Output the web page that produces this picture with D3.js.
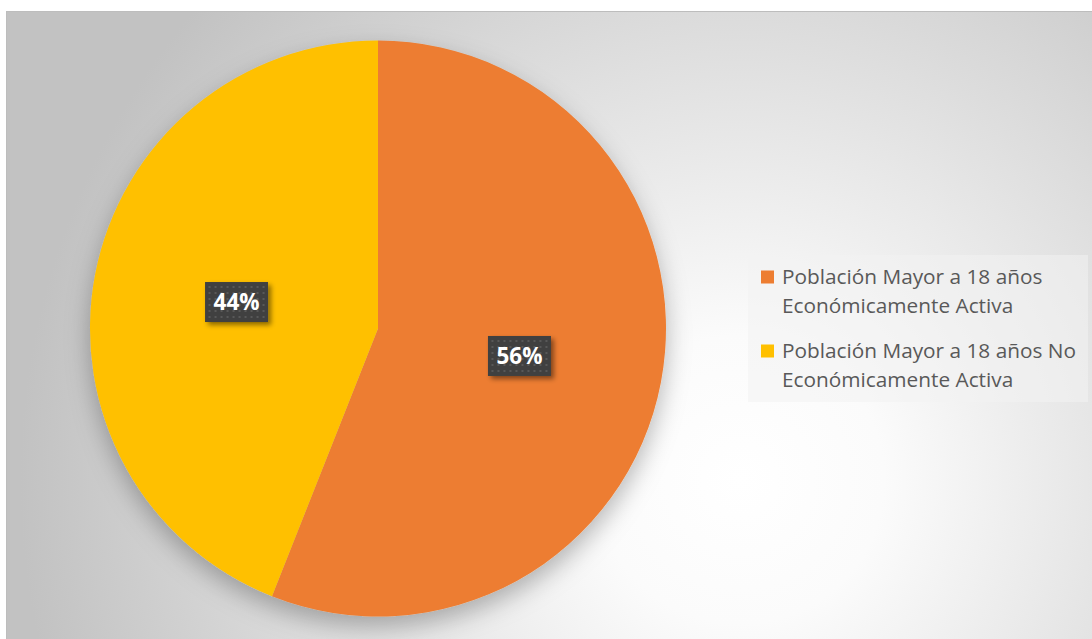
<!DOCTYPE html>
<html>
<head>
<meta charset="utf-8">
<script src="https://cdn.jsdelivr.net/npm/d3@7"></script>
<style>
  html, body { margin: 0; padding: 0; background: #ffffff; }
  svg { display: block; }
</style>
</head>
<body>
<svg id="chart" width="1092" height="639"></svg>
<script>
// Population over 18, split by economic activity
const categories = [
  "Población Mayor a 18 años Económicamente Activa",
  "Población Mayor a 18 años No Económicamente Activa"
];
const legendLines = [
  ["Población Mayor a 18 años", "Económicamente Activa"],
  ["Población Mayor a 18 años No", "Económicamente Activa"]
];
const values = [56, 44];
const colors = ["#ED7D31", "#FFC000"];

const svg = d3.select("#chart");
const W = 1092, H = 639;
const defs = svg.append("defs");

// chart area background: radial grey-to-white gradient
const grad = defs.append("radialGradient").attr("id", "bg")
  .attr("gradientUnits", "userSpaceOnUse")
  .attr("cx", 740).attr("cy", 480).attr("r", 720);
grad.append("stop").attr("offset", "0%").attr("stop-color", "#ffffff");
grad.append("stop").attr("offset", "20%").attr("stop-color", "#fbfbfb");
grad.append("stop").attr("offset", "100%").attr("stop-color", "#c2c2c2");

const shadow = defs.append("filter").attr("id", "pieShadow")
  .attr("x", "-20%").attr("y", "-20%").attr("width", "140%").attr("height", "140%");
shadow.append("feDropShadow").attr("dx", 0).attr("dy", 10)
  .attr("stdDeviation", 12).attr("flood-color", "#000").attr("flood-opacity", 0.28);

const lblShadow = defs.append("filter").attr("id", "lblShadow")
  .attr("x", "-30%").attr("y", "-30%").attr("width", "160%").attr("height", "160%");
lblShadow.append("feDropShadow").attr("dx", 3).attr("dy", 3)
  .attr("stdDeviation", 2.5).attr("flood-color", "#000").attr("flood-opacity", 0.45);

// dotted texture for the data label boxes
const pat = defs.append("pattern").attr("id", "dots")
  .attr("patternUnits", "userSpaceOnUse").attr("width", 6).attr("height", 6);
pat.append("rect").attr("width", 6).attr("height", 6).attr("fill", "#404040");
pat.append("rect").attr("x", 2).attr("y", 2).attr("width", 2).attr("height", 2).attr("fill", "#585858");

svg.append("rect").attr("x", 6).attr("y", 11).attr("width", W - 6).attr("height", H - 11)
  .attr("fill", "url(#bg)");
svg.append("line").attr("x1", 6).attr("x2", W).attr("y1", 11.5).attr("y2", 11.5)
  .attr("stroke", "#bdbdbd").attr("stroke-width", 1);
svg.append("line").attr("x1", 6.5).attr("x2", 6.5).attr("y1", 11).attr("y2", H)
  .attr("stroke", "#bdbdbd").attr("stroke-width", 1);

// pie
const cx = 378, cy = 328.5, r = 288;
const pie = d3.pie().sort(null).value(d => d)(values);
const arc = d3.arc().innerRadius(0).outerRadius(r);

const g = svg.append("g").attr("transform", `translate(${cx},${cy})`);
g.append("g").attr("filter", "url(#pieShadow)")
  .selectAll("path").data(pie).join("path")
  .attr("d", arc).attr("fill", (d, i) => colors[i]);

// data labels
const lblArc = d3.arc().innerRadius(r * 0.5).outerRadius(r * 0.5);
const fmt = d => d + "%";
const labels = g.selectAll("g.lbl").data(pie).join("g").attr("class", "lbl")
  .attr("transform", d => {
    const [x, y] = lblArc.centroid(d);
    return `translate(${x},${y + 0.5})`;
  });
labels.append("rect")
  .attr("x", -31.5).attr("y", -20).attr("width", 63).attr("height", 40)
  .attr("fill", "url(#dots)").attr("filter", "url(#lblShadow)");
labels.append("text")
  .attr("text-anchor", "middle").attr("dy", "0.36em")
  .attr("font-family", "'Open Sans', sans-serif").attr("font-weight", "bold")
  .attr("font-size", 22.5).attr("fill", "#ffffff")
  .text(d => fmt(d.data));

// legend
const lg = svg.append("g");
lg.append("rect").attr("x", 748).attr("y", 255).attr("width", 340).attr("height", 147)
  .attr("fill", "#f2f2f2").attr("fill-opacity", 0.55);
const item = lg.selectAll("g.item").data(categories).join("g").attr("class", "item")
  .attr("transform", (d, i) => `translate(761,${i === 0 ? 284 : 358})`);
item.append("rect").attr("x", 0).attr("y", -13.5).attr("width", 13).attr("height", 13)
  .attr("fill", (d, i) => colors[i]);
item.append("text")
  .attr("font-family", "'Open Sans', sans-serif").attr("font-size", 20.8)
  .attr("fill", "#595959")
  .selectAll("tspan").data((d, i) => legendLines[i]).join("tspan")
  .attr("x", 21).attr("y", (d, j) => j * 29).text(d => d);
</script>
</body>
</html>
